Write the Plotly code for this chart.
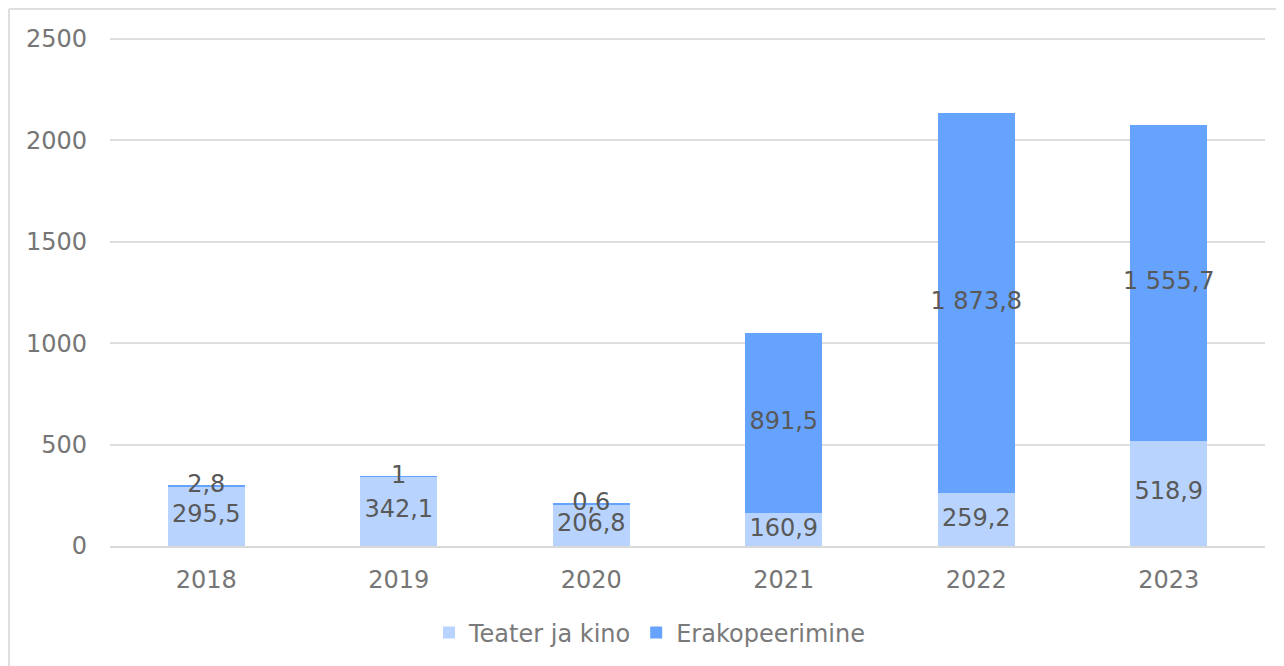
import plotly.graph_objects as go

years = ["2018", "2019", "2020", "2021", "2022", "2023"]
teater_ja_kino = [295.5, 342.1, 206.8, 160.9, 259.2, 518.9]
erakopeerimine = [2.8, 1.0, 0.6, 891.5, 1873.8, 1555.7]
y_ticks = [0, 500, 1000, 1500, 2000, 2500]

LIGHT = "#B8D4FE"
DARK = "#66A3FF"
FONT = "Verdana, DejaVu Sans, sans-serif"


def fmt(v):
    if abs(v - round(v)) < 1e-9:
        return f"{int(round(v)):,}".replace(",", " ")
    return f"{v:,.1f}".replace(",", " ").replace(".", ",")


fig = go.Figure()
fig.add_trace(go.Bar(x=years, y=teater_ja_kino, name="Teater ja kino",
                     marker=dict(color=LIGHT, line=dict(width=0)),
                     hoverinfo="skip"))
fig.add_trace(go.Bar(x=years, y=erakopeerimine, name="Erakopeerimine",
                     marker=dict(color=DARK, line=dict(width=0)),
                     hoverinfo="skip"))

# data labels centred in each segment
lab_x, lab_y, lab_t = [], [], []
for i, yr in enumerate(years):
    a, b = teater_ja_kino[i], erakopeerimine[i]
    lab_x += [yr, yr]
    lab_y += [a / 2, a + b / 2]
    lab_t += [fmt(a), fmt(b)]
fig.add_trace(go.Scatter(x=lab_x, y=lab_y, text=lab_t, mode="text",
                         textfont=dict(family=FONT, size=24, color="#595959"),
                         showlegend=False, hoverinfo="skip"))

# page body has an 8px margin: work in screen pixels minus 8
OFF = 8
W, H = 1284 - OFF, 666 - OFF
y_top_val = 2505
L = 110 - OFF
R = 1284 - 1265
T = round(39 - (y_top_val - 2500) * 508 / 2500) - OFF
B = H - (547 - OFF)
pw, ph = W - L - R, H - T - B

fig.update_layout(
    width=W, height=H,
    barmode="stack", bargap=0.6,
    plot_bgcolor="white", paper_bgcolor="white",
    margin=dict(l=L, r=R, t=T, b=B),
    font=dict(family=FONT, size=24, color="#767676"),
    xaxis=dict(showgrid=False, showline=True, linecolor="#D9D9D9", linewidth=2,
               ticks="", tickfont=dict(size=24, color="#767676"),
               ticklabelstandoff=11),
    yaxis=dict(range=[0, y_top_val], tickvals=y_ticks, showgrid=True,
               gridcolor="#DEDEDE", gridwidth=2, zeroline=False,
               showline=False, ticks="",
               tickfont=dict(size=24, color="#767676"),
               ticklabelstandoff=22),
    legend=dict(orientation="h", traceorder="normal",
                x=(429 - 110) / pw, xanchor="left",
                y=(547 - 633) / ph, yanchor="middle",
                font=dict(size=24, color="#7A7A7A"),
                bgcolor="rgba(0,0,0,0)"),
    showlegend=True,
)

# chart-area border (top and left edges visible)
x_left = (9 - 110) / pw
y_top = (547 - 9) / ph
fig.add_shape(type="line", xref="paper", yref="paper",
              x0=x_left, x1=1.2, y0=y_top, y1=y_top,
              line=dict(color="#DEDEDE", width=2))
fig.add_shape(type="line", xref="paper", yref="paper",
              x0=x_left, x1=x_left, y0=y_top, y1=-0.5,
              line=dict(color="#DEDEDE", width=2))

fig.write_html("out.html")
